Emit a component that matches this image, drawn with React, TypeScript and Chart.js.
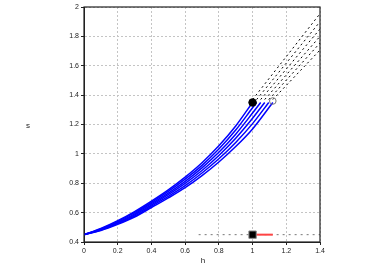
import React, { useEffect, useRef } from "react";
import { Chart, registerables } from "chart.js";

Chart.register(...registerables);

const xTicks = [0, 0.2, 0.4, 0.6, 0.8, 1, 1.2, 1.4];
const yTicks = [0.4, 0.6, 0.8, 1, 1.2, 1.4, 1.6, 1.8, 2];

// blue trajectories (h, s)
const curveH = [0, 0.1, 0.2, 0.3, 0.4, 0.5, 0.6, 0.7, 0.8, 0.9, 1.0];
const curve1 = [0.45, 0.492, 0.545, 0.607, 0.678, 0.755, 0.842, 0.94, 1.055, 1.19, 1.35];
const curve2 = [0.45, 0.489, 0.54, 0.6, 0.669, 0.744, 0.828, 0.922, 1.033, 1.162, 1.314];
const curve3 = [0.45, 0.486, 0.535, 0.592, 0.661, 0.733, 0.813, 0.905, 1.011, 1.134, 1.278];
const curve4 = [0.45, 0.484, 0.53, 0.585, 0.652, 0.722, 0.799, 0.887, 0.989, 1.106, 1.242];
const curve5 = [0.45, 0.481, 0.525, 0.577, 0.644, 0.711, 0.784, 0.87, 0.967, 1.078, 1.206];
const curve6 = [0.45, 0.478, 0.52, 0.57, 0.635, 0.7, 0.77, 0.852, 0.945, 1.05, 1.17];
const curveEndH = [1.0, 1.024, 1.048, 1.072, 1.096, 1.12];
const curveEndS = [1.35, 1.35, 1.35, 1.35, 1.35, 1.35];

// dashed continuations: start (h,s) -> end (h,s)
const dashStartH = [1.0, 1.024, 1.048, 1.072, 1.096, 1.12];
const dashStartS = [1.37, 1.37, 1.37, 1.37, 1.37, 1.37];
const dashEndH = [1.394, 1.4, 1.4, 1.4, 1.4, 1.4];
const dashEndS = [1.946, 1.9, 1.85, 1.8, 1.755, 1.707];

// markers
const filledCircle = { h: 1.0, s: 1.35 };
const openCircle = { h: 1.12, s: 1.36 };
const squarePt = { h: 1.0, s: 0.45 };
const redSegH = [1.0, 1.12];
const redSegS = [0.45, 0.45];
const grayDashH = [0.68, 1.4];
const grayDashS = [0.45, 0.45];

const W = 382;
const H = 267;

export default function App() {
  const ref = useRef<HTMLCanvasElement | null>(null);

  useEffect(() => {
    if (!ref.current) return;
    const curves = [curve1, curve2, curve3, curve4, curve5, curve6];
    const blueSets = curves.map((c, i) => {
      const pts = curveH.map((h, k) => ({ x: h, y: c[k] }));
      if (curveEndH[i] > 1.0) pts.push({ x: curveEndH[i], y: curveEndS[i] });
      return {
        type: "scatter" as const,
        data: pts,
        showLine: true,
        borderColor: "#0000ff",
        borderWidth: 1.5,
        pointRadius: 0,
        cubicInterpolationMode: "monotone" as const,
        fill: false,
      };
    });
    const dashSets = dashStartH.map((h, i) => ({
      type: "scatter" as const,
      data: [
        { x: h, y: dashStartS[i] },
        { x: dashEndH[i], y: dashEndS[i] },
      ],
      showLine: true,
      borderColor: "#000000",
      borderWidth: 1,
      borderDash: [2, 3],
      pointRadius: 0,
      fill: false,
    }));

    const frame = {
      id: "frame",
      afterDraw(chart: any) {
        const { ctx, chartArea: a } = chart;
        ctx.save();
        ctx.strokeStyle = "#222";
        ctx.lineWidth = 1.2;
        ctx.setLineDash([]);
        ctx.strokeRect(a.left, a.top, a.right - a.left, a.bottom - a.top);
        ctx.fillStyle = "#222";
        ctx.font = "8px 'Liberation Sans', Arial, sans-serif";
        ctx.textAlign = "center";
        ctx.textBaseline = "middle";
        ctx.fillText("s", 28, 126);
        ctx.fillText("h", 203, 261);
        ctx.restore();
      },
    };

    const gridCommon = {
      color: "#c4c4c4",
      lineWidth: 1,
      tickLength: 3,
      tickColor: "#222",
      drawTicks: true,
    };
    const borderCommon = { display: true, color: "#222", width: 1, dash: [2, 2] };
    const tickFont = { size: 7, family: "'Liberation Sans', Arial, sans-serif" };

    const chart = new Chart(ref.current, {
      type: "scatter",
      data: {
        datasets: [
          {
            data: [{ x: squarePt.h, y: squarePt.s }],
            pointStyle: "rect",
            pointRadius: 5.2,
            backgroundColor: "#000",
            borderColor: "#888",
            borderWidth: 1,
          },
          {
            data: [{ x: filledCircle.h, y: filledCircle.s }],
            pointRadius: 3.8,
            backgroundColor: "#000",
            borderColor: "#000",
            borderWidth: 1,
          },
          {
            data: [{ x: openCircle.h, y: openCircle.s }],
            pointRadius: 3.3,
            backgroundColor: "rgba(255,255,255,0)",
            borderColor: "#777",
            borderWidth: 1,
          },
          {
            data: redSegH.map((h, i) => ({ x: h, y: redSegS[i] })),
            showLine: true,
            borderColor: "#ff4444",
            borderWidth: 2,
            pointRadius: 0,
          },
          {
            data: grayDashH.map((h, i) => ({ x: h, y: grayDashS[i] })),
            showLine: true,
            borderColor: "#777",
            borderWidth: 1,
            borderDash: [2, 4],
            pointRadius: 0,
          },
          ...dashSets,
          ...blueSets,
        ] as any,
      },
      options: {
        animation: false,
        responsive: false,
        layout: { padding: { top: 7, right: 62, left: 0, bottom: 0 } },
        plugins: { legend: { display: false }, tooltip: { enabled: false } },
        scales: {
          x: {
            type: "linear",
            min: 0,
            max: 1.4,
            afterBuildTicks: (s: any) => {
              s.ticks = xTicks.map((v) => ({ value: v }));
            },
            afterFit: (s: any) => {
              s.height = 25;
            },
            grid: gridCommon,
            border: borderCommon,
            ticks: {
              color: "#222",
              font: tickFont,
              padding: 2,
              maxRotation: 0,
              callback: (v: any) => String(v),
            },
          },
          y: {
            type: "linear",
            min: 0.4,
            max: 2,
            afterBuildTicks: (s: any) => {
              s.ticks = yTicks.map((v) => ({ value: v }));
            },
            afterFit: (s: any) => {
              s.width = 84;
            },
            grid: gridCommon,
            border: borderCommon,
            ticks: {
              color: "#222",
              font: tickFont,
              padding: 2,
              callback: (v: any) => String(v),
            },
          },
        },
      },
      plugins: [frame],
    } as any);
    return () => chart.destroy();
  }, []);

  return (
    <div style={{ position: "fixed", left: 0, top: 0, width: W, height: H, background: "#fff" }}>
      <canvas ref={ref} width={W} height={H} style={{ width: W, height: H }} />
    </div>
  );
}
